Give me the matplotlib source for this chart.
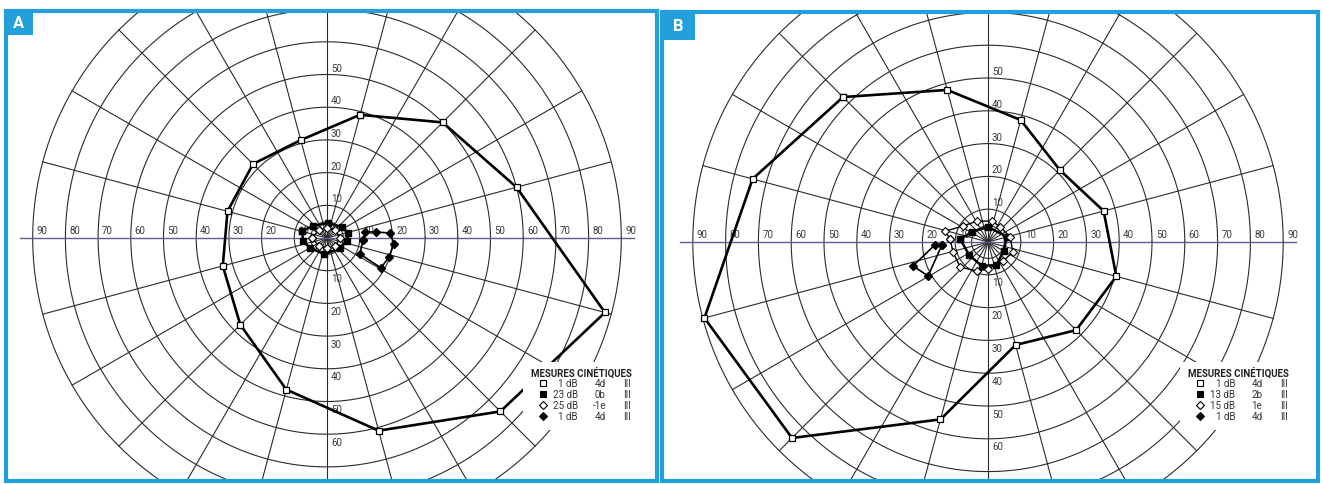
import numpy as np
import matplotlib
matplotlib.use('Agg')
import matplotlib.pyplot as plt
from matplotlib.patches import Rectangle

plt.rcParams['font.family'] = ['Roboto', 'DejaVu Sans']

# isopters, angles in degrees (0 = right, counter-clockwise), radius in degrees of field
a_iso_theta = [75, 45, 15, -15, -45, -75, -105, -135, -165, 165, 135, 105]
a_iso_r = [39, 50, 60, 88, 75, 61, 48, 37.5, 33, 31.5, 32, 31]
a_sq_theta = [164, 139, 86, 36, 13, -9, -39, -99, -149, -173]
a_sq_r = [7.9, 5.6, 4.6, 5.7, 6.6, 6.2, 5.0, 5.0, 6.0, 7.4]
a_dia_theta = [180, 135, 90, 45, 0, -45, -90, -135]
a_dia_r = [4.5, 3.5, 3.0, 3.5, 4.0, 3.5, 3.0, 3.5]
a_spot_theta = [-3, 9, 7, 4.5, -5, -17, -29, -26]
a_spot_r = [11, 11.8, 15.1, 19.3, 20.6, 19.8, 18.9, 11.2]

b_iso_theta = [135, 105, 75, 45, 15, -15, -45, -75, -105, -135, -165, 165]
b_iso_r = [62.5, 48, 38.5, 31, 36.5, 40.5, 38, 32.5, 56, 84.5, 89.5, 74.3]
b_sq_theta = [174, 148, 90, 15, -30, -70, -105, -145]
b_sq_r = [8.5, 5.8, 4.6, 6.0, 5.5, 7.5, 7.5, 7.0]
b_dia_theta = [175.5, 166, 147, 118, 79, 51, 13, -22, -52, -90, -111, -138, -164]
b_dia_r = [11.6, 13.5, 9, 7.2, 6.5, 5.9, 6.9, 8.2, 7.4, 8.2, 9.5, 11.4, 11.1]
b_spot_theta = [184, 183, 197.7, 209.5]
b_spot_r = [14.1, 16.2, 24, 21]

legend_a = [('1 dB', '4d', 'III'), ('23 dB', '0b', 'III'), ('25 dB', '-1e', 'III'), ('1 dB', '4d', 'III')]
legend_b = [('1 dB', '4d', 'III'), ('13 dB', '2b', 'III'), ('15 dB', '1e', 'III'), ('1 dB', '4d', 'III')]

W, H = 1323, 485
BLUE = '#23a0dc'
GRID = '#2b2b2b'

fig = plt.figure(figsize=(W / 100, H / 100), dpi=100)


def fx(x):
    return x / W


def fy(y):
    return 1 - y / H


def pol(theta, r, close=True):
    t = np.radians(np.asarray(theta, float))
    r = np.asarray(r, float)
    x, y = r * np.cos(t), r * np.sin(t)
    if close:
        x, y = np.append(x, x[0]), np.append(y, y[0])
    return x, y


def draw_grid(ax):
    tt = np.linspace(0, 2 * np.pi, 400)
    for r in [5] + list(range(10, 100, 10)):
        ax.plot(r * np.cos(tt), r * np.sin(tt), color=GRID, lw=0.8, zorder=1)
    for a in range(0, 360, 15):
        if a in (0, 180):
            continue
        t = np.radians(a)
        ax.plot([0, 90 * np.cos(t)], [0, 90 * np.sin(t)], color=GRID, lw=0.8, zorder=1)
    ax.plot([-94, 94], [0, 0], color='#6a5a8c', lw=1.0, zorder=1)
    for r in range(10, 100, 10):
        for s in (-1, 1):
            ax.text(s * r + 1.2, 0.8, str(r), fontsize=7, color='#3a3a3a',
                    ha='left', va='bottom', zorder=2)
    for r in range(10, 60, 10):
        ax.text(1.2, r + 0.6, str(r), fontsize=7, color='#3a3a3a',
                ha='left', va='bottom', zorder=2)
    for r in range(10, 70, 10):
        ax.text(1.2, -r - 0.8, str(r), fontsize=7, color='#3a3a3a',
                ha='left', va='top', zorder=2)


def draw_panel(box, center, scale, data, letter, lbox, legend, leg_xy):
    x0, y0, x1, y1 = box
    cx, cy = center
    ax = fig.add_axes([fx(x0), fy(y1), (x1 - x0) / W, (y1 - y0) / H])
    ax.set_xlim((x0 - cx) / scale, (x1 - cx) / scale)
    ax.set_ylim((cy - y1) / scale, (cy - y0) / scale)
    ax.axis('off')
    draw_grid(ax)

    iso, sq, dia, spot = data
    x, y = pol(*iso)
    ax.plot(x, y, color='black', lw=1.9, marker='s', ms=5, mfc='white',
            mec='black', mew=0.9, zorder=5)
    x, y = pol(*sq)
    ax.plot(x, y, color='black', lw=1.8, marker='s', ms=4.5, mfc='black',
            mec='black', zorder=5)
    x, y = pol(*dia)
    ax.plot(x, y, color='black', lw=1.0, marker='D', ms=4, mfc='white',
            mec='black', mew=0.8, zorder=6)
    x, y = pol(*spot)
    ax.plot(x, y, color='black', lw=1.2, marker='D', ms=4, mfc='black',
            mec='black', zorder=5)

    # legend
    lx, ly = leg_xy
    fig.add_artist(Rectangle((fx(lx - 8), fy(ly + 58)), 118 / W, 68 / H,
                             transform=fig.transFigure, fc='white', ec='none', zorder=8))
    fig.text(fx(lx), fy(ly), 'MESURES CINÉTIQUES', fontsize=7, color='#222222',
             fontweight='bold', ha='left', va='center', zorder=9)
    styles = [('s', 'white'), ('s', 'black'), ('D', 'white'), ('D', 'black')]
    for i, (db, size, ring) in enumerate(legend):
        yy = ly + 11 * (i + 1)
        m, fc = styles[i]
        fig.add_artist(plt.Line2D([fx(lx + 12)], [fy(yy)], marker=m, ms=4.5, mfc=fc,
                                  mec='black', mew=0.8, ls='none',
                                  transform=fig.transFigure, zorder=9))
        fig.text(fx(lx + 47), fy(yy), db, fontsize=7, color='#333333',
                 ha='right', va='center', zorder=9)
        fig.text(fx(lx + 69), fy(yy), size, fontsize=7, color='#333333',
                 ha='center', va='center', zorder=9)
        fig.text(fx(lx + 96), fy(yy), ring, fontsize=7, color='#333333',
                 ha='center', va='center', zorder=9)

    # blue frame and panel letter
    fig.add_artist(Rectangle((fx(x0), fy(y1)), (x1 - x0) / W, (y1 - y0) / H,
                             transform=fig.transFigure, fill=False, ec=BLUE,
                             lw=3, zorder=10))
    bx0, by0, bx1, by1 = lbox
    fig.add_artist(Rectangle((fx(bx0), fy(by1)), (bx1 - bx0) / W, (by1 - by0) / H,
                             transform=fig.transFigure, fc=BLUE, ec='none', zorder=11))
    fig.text(fx((bx0 + bx1) / 2), fy((by0 + by1) / 2), letter, color='white',
             fontsize=12, fontweight='bold', ha='center', va='center', zorder=12)


draw_panel((6, 12, 657, 482), (327, 239), 3.27,
           [(a_iso_theta, a_iso_r), (a_sq_theta, a_sq_r),
            (a_dia_theta, a_dia_r), (a_spot_theta, a_spot_r)],
           'A', (5, 11, 33, 36), legend_a, (531, 373))
draw_panel((662, 13, 1318, 482), (988, 243), 3.28,
           [(b_iso_theta, b_iso_r), (b_sq_theta, b_sq_r),
            (b_dia_theta, b_dia_r), (b_spot_theta, b_spot_r)],
           'B', (661, 12, 695, 41), legend_b, (1188, 373))

fig.savefig('out.png', dpi=100)
